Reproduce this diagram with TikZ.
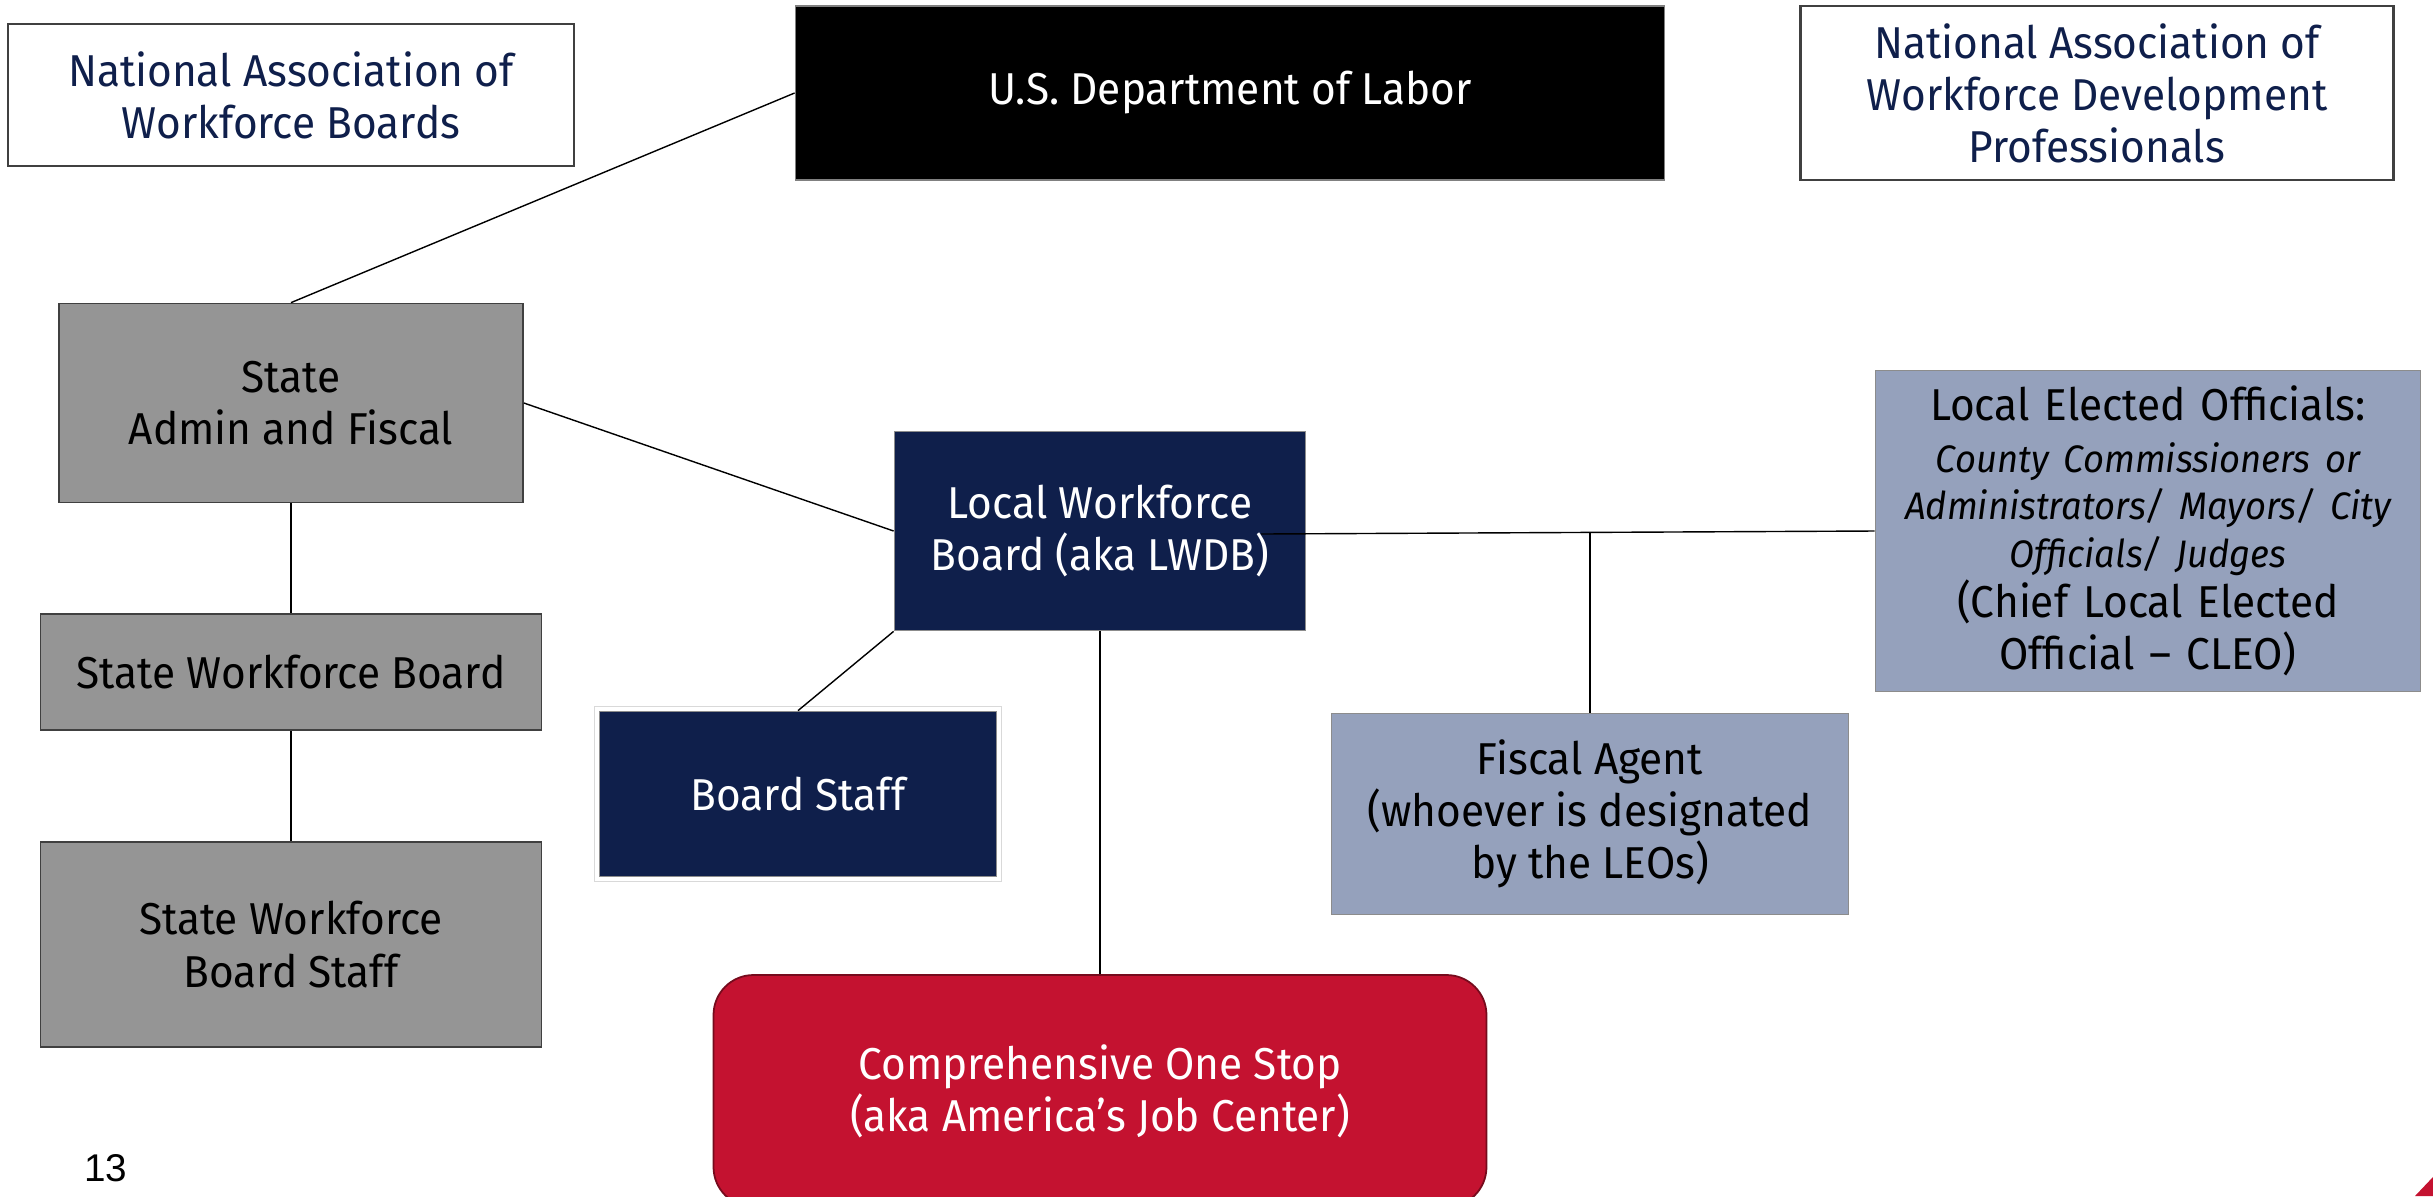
\documentclass[tikz,border=0pt]{standalone}
\usepackage{fontspec}
\setmainfont{Fira Sans}[FakeStretch=0.95]
\newfontfamily\pagefont{Liberation Sans}
\usetikzlibrary{positioning}
\setlength\parindent{0pt}

\definecolor{navy}{HTML}{0F1F4B}
\definecolor{stategray}{HTML}{959595}
\definecolor{localblue}{HTML}{95A1BC}
\definecolor{stopred}{HTML}{C41230}

\begin{document}
\begin{tikzpicture}[
        x=0.1mm, y=-0.1mm,
        box/.style={rectangle, inner sep=0pt, align=center, line width=0.5pt, font=\fontsize{12.7}{14.8}\selectfont},
        A/.style={box, draw=black!75, line width=0.8pt, fill=white, text=navy},
        D/.style={box, draw=black!50, fill=black, text=white},
        S/.style={box, draw=black!75, fill=stategray, text=black, minimum width=50.1mm},
        L/.style={box, draw=black!45, fill=navy, text=white},
        E/.style={box, draw=black!45, fill=localblue, text=black},
        C/.style={box, draw=stopred!60!black, fill=stopred, text=white, rounded corners=4mm},
        link/.style={draw=black, line width=0.4pt},
        node distance=11mm
    ]
    \useasboundingbox (0,0) rectangle (2433,1196);

    % top row
    \node[A, minimum width=56.6mm, minimum height=14.2mm] (a1) at (291,95)    {National Association of\\Workforce Boards};
    \node[D, minimum width=86.9mm, minimum height=17.4mm] (d1) at (1230,93)   {U.S. Department of Labor};
    \node[A, minimum width=59.3mm, minimum height=17.4mm] (a2) at (2097,93)   {National Association of\\Workforce Development\\Professionals};

    % state side
    \node[S, minimum width=46.4mm, minimum height=19.9mm] (s1) at (291,403)   {State\\Admin and Fiscal};
    \node[S, minimum height=11.6mm] (s2) [below=of s1]                        {State Workforce Board};
    \node[S, minimum height=20.5mm] (s3) [below=of s2]                        {State Workforce\\Board Staff};

    % local side
    \node[L, minimum width=41.1mm, minimum height=19.9mm] (l1) at (1100,531)  {Local Workforce\\Board (aka LWDB)};
    \node[L, minimum width=39.7mm, minimum height=16.5mm] (l2) at (798,794)   {Board Staff};
    \draw[black!15, line width=0.3pt] ([shift={(-4,-4)}]l2.north west) rectangle ([shift={(4,4)}]l2.south east);

    \node[E, minimum width=51.7mm, minimum height=20.1mm] (e1) at (1590,814)  {Fiscal Agent\\(whoever is designated\\by the LEOs)};
    \node[E, minimum width=54.5mm, minimum height=32.1mm, text width=54mm] (e2) at (2148,531) {%
        Local Elected Officials:\par
        {\fontsize{10.9}{14.8}\selectfont\itshape County Commissioners or\par}
        {\fontsize{10.9}{13.4}\selectfont\itshape Administrators/ Mayors/ City\par}
        {\fontsize{10.9}{13.6}\selectfont\itshape Officials/ Judges\par}
        {\fontsize{12.7}{14.2}\selectfont (Chief Local Elected\par}
        {\fontsize{12.7}{14.8}\selectfont Official – CLEO)\par}};

    \node[C, minimum width=77.3mm, minimum height=23.2mm] (c1) at (1100,1091) {Comprehensive One Stop\\(aka America’s Job Center)};

    \coordinate (l1r) at (1261,534);
    \coordinate (tee) at (1590,533);

    \draw[link] (d1.west) -- (s1.north);
    \draw[link] (s1.east) -- (l1.west);
    \draw[link] (s1) -- (s2);
    \draw[link] (s2) -- (s3);
    \draw[link] (l1.south west) -- (l2.north);
    \draw[link] (l1) -- (c1);
    \draw[link] (l1r) -- (e2.west);
    \draw[link] (e1.north) -- (tee);

    % page number and corner mark
    \node[font=\pagefont\fontsize{11}{13}\selectfont] (pg) at (106,1168) {13};
    \fill[stopred] (2415,1196) -- (2433,1196) -- (2433,1177) -- cycle;
\end{tikzpicture}
\end{document}
